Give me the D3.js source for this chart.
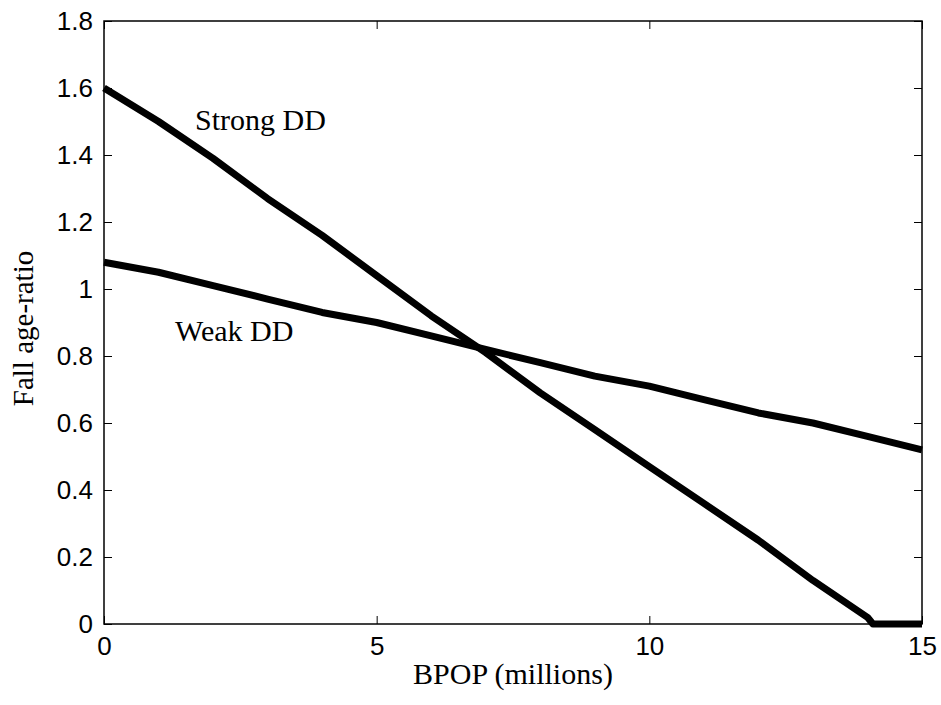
<!DOCTYPE html>
<html>
<head>
<meta charset="utf-8">
<script src="https://cdn.jsdelivr.net/npm/d3@7"></script>
<style>
  body { margin: 0; background: #fff; }
  svg { display: block; }
</style>
</head>
<body>
<div id="chart"></div>
<script>
const bpop = [0, 1, 2, 3, 4, 5, 6, 7, 8, 9, 10, 11, 12, 13, 14, 14.1, 15];
const strongDD = [1.60, 1.50, 1.39, 1.27, 1.16, 1.04, 0.92, 0.81, 0.69, 0.58, 0.47, 0.36, 0.25, 0.13, 0.02, 0, 0];
const weakX = [0, 1, 2, 3, 4, 5, 6, 7, 8, 9, 10, 11, 12, 13, 14, 15];
const weakDD = [1.08, 1.05, 1.01, 0.97, 0.93, 0.90, 0.86, 0.82, 0.78, 0.74, 0.71, 0.67, 0.63, 0.60, 0.56, 0.52];
const xTicks = [0, 5, 10, 15];
const yTicks = [0, 0.2, 0.4, 0.6, 0.8, 1, 1.2, 1.4, 1.6, 1.8];

(() => {
  const width = 941, height = 705;
  const margin = {top: 21, right: 19, bottom: 81, left: 104};
  const w = width - margin.left - margin.right,
        h = height - margin.top - margin.bottom;

  const svg = d3.select("#chart").append("svg")
    .attr("width", width)
    .attr("height", height);

  const g = svg.append("g")
    .attr("transform", `translate(${margin.left},${margin.top})`);

  const x = d3.scaleLinear().domain([0, 15]).range([0, w]);
  const y = d3.scaleLinear().domain([0, 1.8]).range([h, 0]);

  const tickFmt = d => d3.format("~g")(d);

  // axes with inward ticks on all four sides (matlab box)
  const styleAxis = (sel) => {
    sel.select(".domain").remove();
    sel.selectAll("line").attr("stroke", "#000").attr("stroke-width", 1);
    sel.selectAll("text")
      .style("font-family", "Arial, 'Liberation Sans', sans-serif")
      .style("font-size", "26px")
      .attr("fill", "#000");
  };

  g.append("g")
    .attr("transform", `translate(0,${h})`)
    .call(d3.axisBottom(x).tickValues(xTicks).tickFormat(tickFmt).tickSize(-8).tickPadding(13))
    .call(styleAxis);

  g.append("g")
    .call(d3.axisTop(x).tickValues(xTicks).tickSize(-8).tickFormat(""))
    .call(styleAxis);

  g.append("g")
    .call(d3.axisLeft(y).tickValues(yTicks).tickFormat(tickFmt).tickSize(-8).tickPadding(11))
    .call(styleAxis);

  g.append("g")
    .attr("transform", `translate(${w},0)`)
    .call(d3.axisRight(y).tickValues(yTicks).tickSize(-8).tickFormat(""))
    .call(styleAxis);

  g.append("rect")
    .attr("width", w)
    .attr("height", h)
    .attr("fill", "none")
    .attr("stroke", "#000")
    .attr("stroke-width", 1.5);

  const line = d3.line()
    .x(d => x(d[0]))
    .y(d => y(d[1]));

  g.append("path")
    .datum(weakX.map((v, i) => [v, weakDD[i]]))
    .attr("d", line)
    .attr("fill", "none")
    .attr("stroke", "#000")
    .attr("stroke-width", 7)
    .attr("stroke-linejoin", "round");

  g.append("path")
    .datum(bpop.map((v, i) => [v, strongDD[i]]))
    .attr("d", line)
    .attr("fill", "none")
    .attr("stroke", "#000")
    .attr("stroke-width", 7)
    .attr("stroke-linejoin", "round");

  const serif = "'Times New Roman', 'Liberation Serif', serif";

  g.append("text")
    .attr("x", 195 - margin.left)
    .attr("y", 130 - margin.top)
    .text("Strong DD")
    .style("font-family", serif)
    .style("font-size", "30px");

  g.append("text")
    .attr("x", 175 - margin.left)
    .attr("y", 341 - margin.top)
    .text("Weak DD")
    .style("font-family", serif)
    .style("font-size", "30px");

  svg.append("text")
    .attr("x", margin.left + w / 2)
    .attr("y", 684)
    .attr("text-anchor", "middle")
    .text("BPOP (millions)")
    .style("font-family", serif)
    .style("font-size", "30px");

  svg.append("text")
    .attr("transform", `translate(33,${margin.top + h / 2 + 6}) rotate(-90)`)
    .attr("text-anchor", "middle")
    .text("Fall age-ratio")
    .style("font-family", serif)
    .style("font-size", "29px");
})();
</script>
</body>
</html>
